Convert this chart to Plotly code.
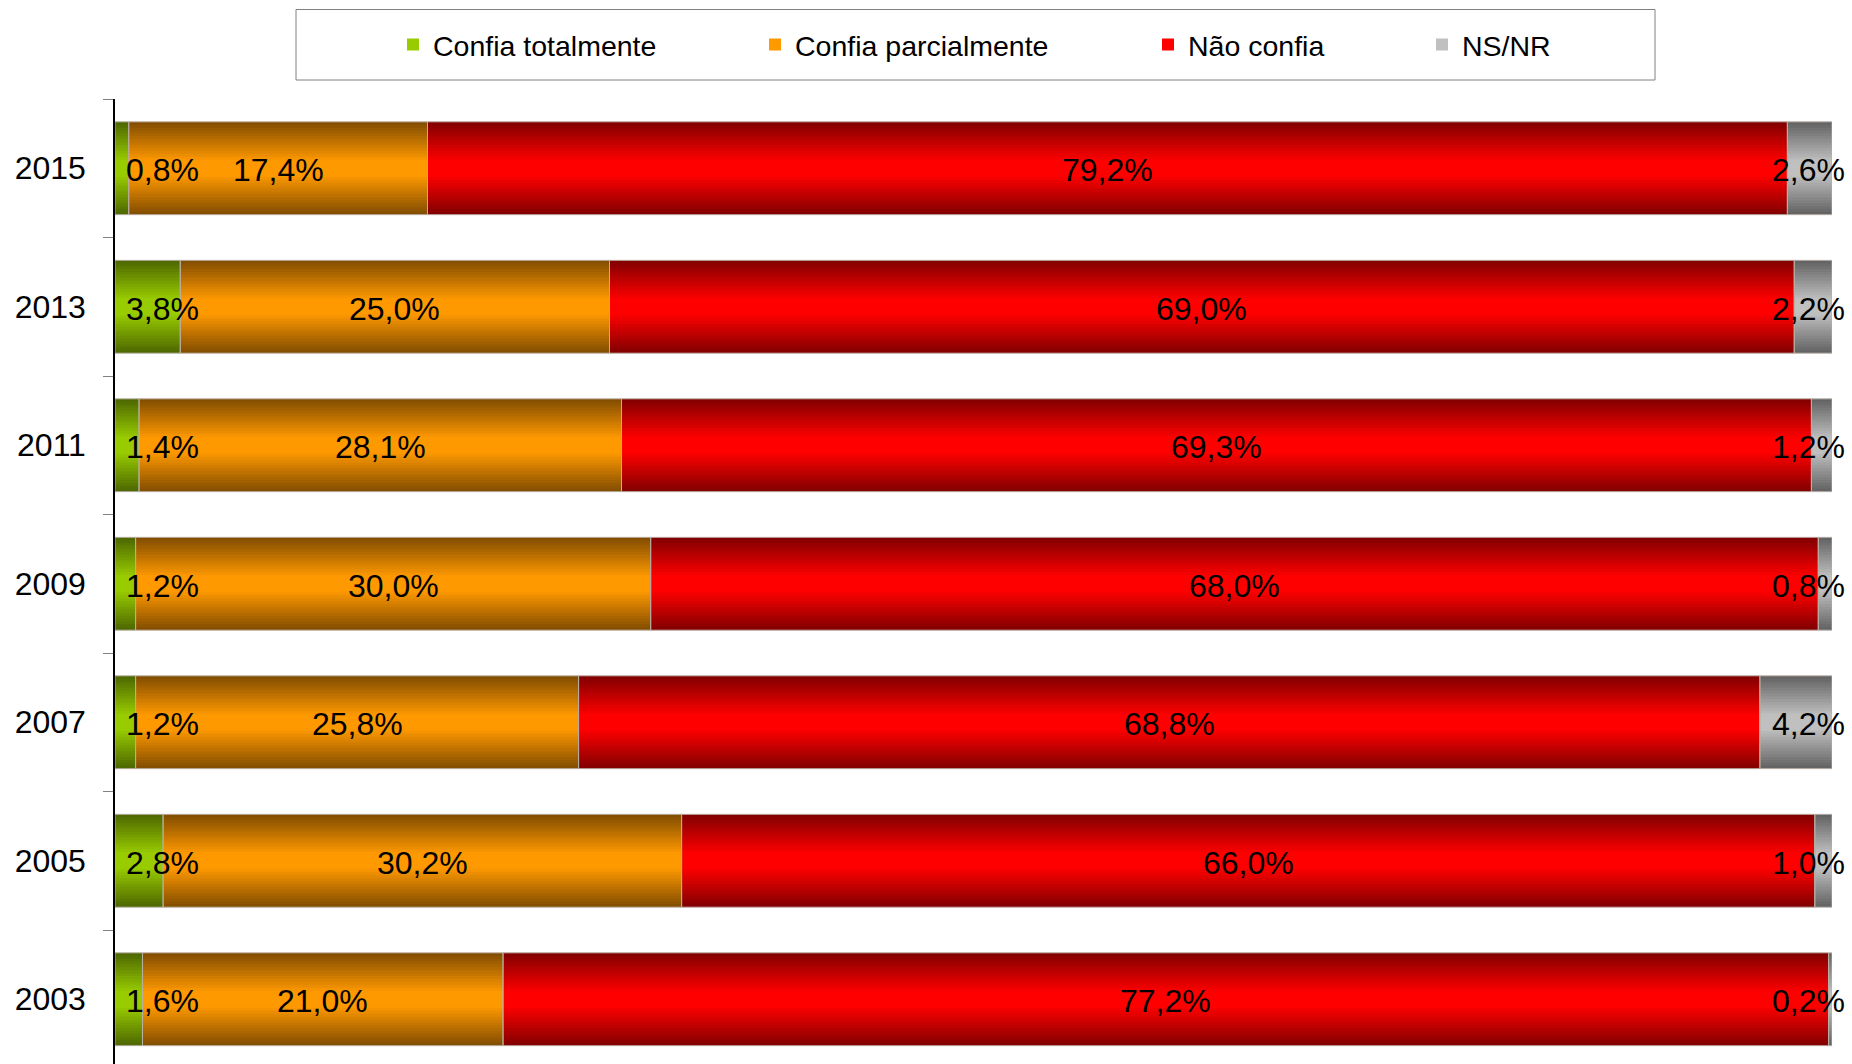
import plotly.graph_objects as go

# ---------------- data ----------------
years = ["2003", "2005", "2007", "2009", "2011", "2013", "2015"]
series_names = ["Confia totalmente", "Confia parcialmente", "Não confia", "NS/NR"]
confia_totalmente = [1.6, 2.8, 1.2, 1.2, 1.4, 3.8, 0.8]
confia_parcialmente = [21.0, 30.2, 25.8, 30.0, 28.1, 25.0, 17.4]
nao_confia = [77.2, 66.0, 68.8, 68.0, 69.3, 69.0, 79.2]
ns_nr = [0.2, 1.0, 4.2, 0.8, 1.2, 2.2, 2.6]
series_values = [confia_totalmente, confia_parcialmente, nao_confia, ns_nr]

# ---------------- style ----------------
FONT = "Liberation Sans, Arial, sans-serif"
W, H = 1852, 1064
ML, MR, MT, MB = 115, 20, 99, 0
PW, PH = W - ML - MR, H - MT - MB
edge_cols = [(76, 102, 0), (128, 76, 0), (128, 0, 0), (96, 96, 96)]
center_cols = [(153, 204, 0), (255, 153, 0), (255, 0, 0), (192, 192, 192)]
BAR_W = 0.67
NL = 16
PX_PER_UNIT = PW / 100.0


def mix(a, b, t):
    return "rgb(%d,%d,%d)" % tuple(round(a[i] + (b[i] - a[i]) * t) for i in range(3))


def fmt(v):
    return ("%.1f" % v).replace(".", ",") + "%"


fig = go.Figure()

bases = [0.0] * len(years)
base_list = []
for s, vals in enumerate(series_values):
    base_list.append(list(bases))
    for k in range(NL):
        t = min(1.0, (k + 0.5) / NL / 0.85)
        fig.add_trace(go.Bar(
            y=years, x=vals, base=list(bases), orientation="h",
            width=BAR_W * (1 - k / NL),
            marker=dict(color=mix(edge_cols[s], center_cols[s], t), line=dict(width=0)),
            name=series_names[s], showlegend=(k == NL - 1),
            legend=["legend", "legend2", "legend3", "legend4"][s],
            hoverinfo="skip",
        ))
    bases = [round(b + v, 6) for b, v in zip(bases, vals)]

# thin outlines
for s, vals in enumerate(series_values):
    fig.add_trace(go.Bar(
        y=years, x=vals, base=base_list[s], orientation="h", width=BAR_W,
        marker=dict(color="rgba(0,0,0,0)", line=dict(width=1, color="rgba(185,175,165,0.9)")),
        showlegend=False, hoverinfo="skip",
    ))

# ---------------- value labels ----------------
annotations = []
for s, vals in enumerate(series_values):
    for i in range(len(years)):
        start = base_list[s][i]
        v = vals[i]
        center = start + v / 2
        a = dict(y=i, xref="x", yref="y", text=fmt(v), showarrow=False, yshift=-2,
                 font=dict(family=FONT, size=32, color="black"))
        if s == 0:
            a.update(x=max(center, 47 / PX_PER_UNIT), xanchor="center")
        elif s == 3:
            a.update(x=round(start + v, 6), xanchor="right", xshift=15)
        else:
            a.update(x=center, xanchor="center")
        annotations.append(a)


def px2x(px):
    return (px - ML) / PW


def px2y(py):
    return 1 - (py - MT) / PH


# legend box
shapes = [dict(type="rect", xref="paper", yref="paper",
               x0=px2x(296), x1=px2x(1655), y0=px2y(80), y1=px2y(9.5),
               line=dict(color="#808080", width=1), fillcolor="rgba(0,0,0,0)")]

text_starts = [433, 795, 1188, 1462]
legends = {}
for j, key in enumerate(["legend", "legend2", "legend3", "legend4"]):
    legends[key] = dict(
        x=px2x(text_starts[j] - 40), xanchor="left",
        y=px2y(45), yanchor="middle",
        orientation="h", bgcolor="rgba(0,0,0,0)", borderwidth=0,
        font=dict(family=FONT, size=28.5, color="black"),
        itemclick=False, itemdoubleclick=False,
    )

nbands = PH / 138.5

fig.update_layout(
    width=W, height=H,
    margin=dict(l=ML, r=MR, t=MT, b=MB, pad=0),
    paper_bgcolor="white", plot_bgcolor="white",
    barmode="overlay",
    font=dict(family=FONT, color="black"),
    xaxis=dict(range=[0, 100], visible=False, fixedrange=True),
    yaxis=dict(
        type="category", categoryorder="array", categoryarray=years,
        range=[6.5 - nbands, 6.5],
        showline=True, linecolor="black", linewidth=1.5,
        ticks="outside", ticklen=10, tickcolor="#808080", tickwidth=1,
        tickson="boundaries", ticklabelstandoff=21,
        tickfont=dict(family=FONT, size=32, color="black"),
        showgrid=False, zeroline=False, fixedrange=True,
    ),
    annotations=annotations,
    shapes=shapes,
    **legends,
)

fig.write_html("out.html", config={"displayModeBar": False},
               post_script="document.body.style.margin='0';document.body.style.overflow='hidden';")
